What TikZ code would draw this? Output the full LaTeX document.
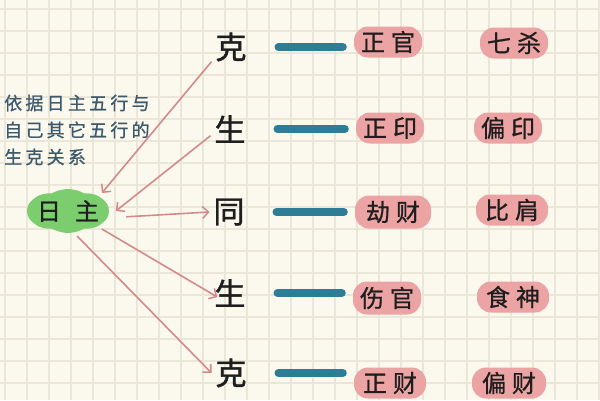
\documentclass[tikz,border=0pt]{standalone}
\usepackage{fontspec}
\usetikzlibrary{arrows.meta,shapes.geometric,shapes.symbols}
\newfontfamily\cjk[FakeBold=0.8]{Noto Sans CJK SC}
\newfontfamily\cjkbig[FakeBold=1.4]{Noto Sans CJK SC}
\newfontfamily\cjkcap[LetterSpace=18,FakeBold=0.8]{Noto Sans CJK SC}
\definecolor{paper}{HTML}{FBF8EE}
\definecolor{gridc}{HTML}{EAE6D8}
\definecolor{pinkblob}{HTML}{EBA3A3}
\definecolor{greenblob}{HTML}{7CCD6E}
\definecolor{barblue}{HTML}{2D7D96}
\definecolor{arrowred}{HTML}{D48A8A}
\definecolor{captc}{HTML}{3D5A6C}
\definecolor{inkc}{HTML}{1E1E1E}
\begin{document}
\begin{tikzpicture}[x=1pt,y=-1pt,
  gridline/.style={gridc, line width=1.1pt},
  bigchar/.style={font=\cjkbig\fontsize{31}{33}\selectfont, text=inkc, inner sep=0pt, outer sep=4pt},
  lab/.style={fill=pinkblob, rounded corners=14pt, minimum width=68pt, minimum height=31pt, inner sep=0pt,
    font=\cjk\fontsize{24}{26}\selectfont, text=inkc},
  sun/.style={ellipse, minimum width=78pt, minimum height=43pt, inner sep=0pt, outer sep=4pt,
    font=\cjk\fontsize{24}{26}\selectfont, text=inkc},
  sunblob/.style={cloud, cloud puffs=8, cloud puff arc=60, aspect=2, fill=greenblob,
    minimum width=82pt, minimum height=44pt, inner sep=0pt},
  arr/.style={arrowred, line width=1.6pt, -{Straight Barb[length=6pt,width=12pt,line width=1.5pt]}},
  bar/.style={barblue, line width=8pt, line cap=round, shorten <=28pt, shorten >=11pt}
]
\useasboundingbox (0,0) rectangle (600,400);
\fill[paper] (0,0) rectangle (600,400);
\foreach \i in {0,...,27} \draw[gridline] (5+22*\i,0) -- (5+22*\i,400);
\foreach \j in {0,...,17} \draw[gridline] (0,9+22*\j) -- (600,9+22*\j);

% caption
\node[anchor=west, align=left, inner sep=0pt, text=captc, font=\cjkcap\fontsize{18}{27}\selectfont] (cap) at (4,130)
  {依据日主五行与\\自己其它五行的\\生克关系};

% day master
\node[sunblob] (rzblob) at (68,211) {};
\node[sun] (rz) at (68,211) {日\hspace{14pt}主};

% relation characters
\node[bigchar] (k1) at (231,47) {克};
\node[bigchar] (s1) at (230,129) {生};
\node[bigchar] (t1) at (229,212) {同};
\node[bigchar] (s2) at (230,293) {生};
\node[bigchar] (k2) at (231,373) {克};

% ten gods labels
\node[lab] (zg) at (388,42) {正\hspace{6pt}官};
\node[lab] (qs) at (514,43) {七\hspace{6pt}杀};
\node[lab] (zy) at (390,128) {正\hspace{6pt}印};
\node[lab] (py) at (508,128) {偏\hspace{6pt}印};
\node[lab, minimum width=76pt, minimum height=33pt] (jc) at (393,212) {劫\hspace{6pt}财};
\node[lab, minimum width=72pt] (bj) at (512,210) {比\hspace{6pt}肩};
\node[lab, minimum height=33pt] (sg) at (387,298) {伤\hspace{6pt}官};
\node[lab, minimum width=72pt] (ss) at (513,297) {食\hspace{6pt}神};
\node[lab, minimum width=72pt] (zc) at (390,383) {正\hspace{6pt}财};
\node[lab, minimum width=74pt] (pc) at (509,383) {偏\hspace{6pt}财};

% blue bars
\draw[bar] (k1.east) -- (k1.east -| zg.west);
\draw[bar] (s1.east) -- (s1.east -| zy.west);
\draw[bar] (t1.east) -- (t1.east -| jc.west);
\draw[bar] (s2.east) -- (s2.east -| sg.west);
\draw[bar] (k2.east) -- (k2.east -| zc.west);

% arrows
\draw[arr] (k1.217) -- (rz.28);
\draw[arr] (s1.199) -- (rz.east);
\draw[arr, shorten <=12pt] (rz.-8) -- (t1.west);
\draw[arr, shorten >=-8pt] (rz.-28) -- (s2.west);
\draw[arr] (rz.-70) -- (k2.west);
\end{tikzpicture}
\end{document}
